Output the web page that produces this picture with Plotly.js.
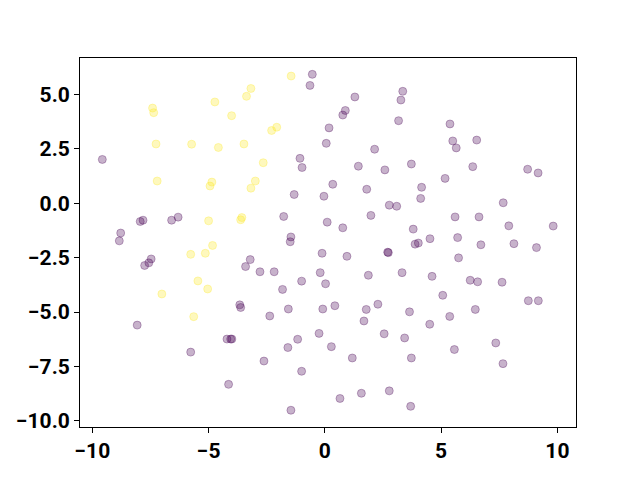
<!DOCTYPE html>
<html>
<head>
<meta charset="utf-8">
<script src="https://cdn.plot.ly/plotly-3.0.1.min.js"></script>
<style>html,body{margin:0;padding:0;background:#fff}#chart{width:640px;height:480px}</style>
</head>
<body>
<div id="chart"></div>
<script>
// Class 1 (yellow) points
const yellowX = [-1.45,-3.18,-3.37,-4.73,-7.41,-7.36,-4.01,-2.29,-2.07,-7.26,-5.73,-4.58,-3.48,-2.65,-7.21,-4.86,-4.94,-2.99,-3.18,-5.00,-3.62,-3.57,-4.83,-5.77,-5.14,-5.46,-5.04,-7.01,-5.64];
const yellowY = [5.84,5.27,4.91,4.65,4.37,4.16,4.02,3.34,3.49,2.72,2.71,2.56,2.72,1.86,1.02,0.97,0.79,1.02,0.69,-0.81,-0.76,-0.66,-1.94,-2.35,-2.30,-3.57,-3.94,-4.17,-5.21];

// Class 0 (purple) points
const purpleX = [-9.57,-7.94,-7.82,-6.59,-6.31,-8.78,-8.84,-0.54,-0.64,1.29,3.35,3.27,0.88,0.77,3.17,0.18,0.06,2.14,-1.07,-0.98,1.44,2.58,3.72,0.34,-1.32,-0.04,1.80,2.77,3.09,-1.77,0.10,1.98,0.77,3.80,-1.46,-1.49,3.88,5.38,5.50,5.65,6.53,6.36,8.72,9.17,5.17,4.16,4.12,7.67,5.60,6.63,7.91,9.82,4.52,5.71,4.02,6.71,8.13,9.10,5.75,4.61,6.25,6.57,7.62,5.07,8.75,9.18,3.64,6.47,5.37,4.51,7.35,5.57,7.66,3.72,3.69,-0.12,0.95,2.73,2.70,-3.21,-3.41,-2.79,-2.18,-0.20,1.87,3.32,-1.00,0.03,-1.82,-1.57,-2.37,-0.09,0.43,1.78,2.28,1.68,-0.25,-1.17,-1.59,0.28,2.55,3.43,1.18,-2.62,-1.00,0.65,1.57,2.77,-1.46,-7.47,-7.57,-7.75,-3.66,-3.62,-8.07,-4.21,-4.05,-4.00,-5.77,-4.14];
const purpleY = [2.01,-0.84,-0.78,-0.78,-0.64,-1.37,-1.73,5.92,5.41,4.88,5.14,4.74,4.26,4.05,3.79,3.46,2.75,2.48,2.06,1.64,1.70,1.53,1.80,0.87,0.40,0.32,0.64,-0.09,-0.14,-0.61,-0.87,-0.56,-1.13,-1.19,-1.55,-1.77,-1.88,3.64,2.86,2.54,2.90,1.68,1.56,1.39,1.14,0.73,0.22,0.02,-0.63,-0.63,-1.04,-1.05,-1.63,-1.58,-1.83,-1.91,-1.86,-2.04,-2.51,-3.36,-3.54,-3.61,-3.63,-4.23,-4.48,-4.48,-4.99,-4.88,-5.20,-5.56,-6.42,-6.72,-7.37,-7.11,-9.33,-2.30,-2.44,-2.27,-2.25,-2.59,-2.91,-3.15,-3.15,-3.19,-3.31,-3.19,-3.58,-3.70,-3.96,-4.86,-5.18,-4.86,-4.71,-4.88,-4.64,-5.41,-5.98,-6.25,-6.63,-6.59,-6.00,-6.19,-7.11,-7.25,-7.72,-8.97,-8.73,-8.62,-9.51,-2.56,-2.74,-2.86,-4.67,-4.79,-5.60,-6.24,-6.24,-6.24,-6.84,-8.32];

const xTicks = [-10, -5, 0, 5, 10];
const yTicks = [-10, -7.5, -5, -2.5, 0, 2.5, 5];

const purple = 'rgba(68,1,84,0.3)';
const yellow = 'rgba(253,231,37,0.3)';

function trace(x, y, c) {
  return {
    x: x, y: y, type: 'scatter', mode: 'markers', hoverinfo: 'skip',
    marker: {size: 8, color: c, line: {color: c, width: 1}}
  };
}

const tickFont = {family: 'Roboto, sans-serif', size: 21, color: '#000', weight: 'bold'};

const axisCommon = {
  showgrid: false, zeroline: false, showline: true, mirror: true,
  linecolor: '#000', linewidth: 1, ticks: 'outside', ticklen: 5, tickwidth: 1,
  tickcolor: '#000', tickfont: tickFont
};

const layout = {
  width: 640, height: 480,
  margin: {l: 80, r: 64, t: 58, b: 53, pad: 0},
  paper_bgcolor: '#fff', plot_bgcolor: '#fff',
  showlegend: false,
  xaxis: Object.assign({}, axisCommon, {range: [-10.53, 10.8], tickvals: xTicks, ticktext: xTicks.map(v => v < 0 ? '\u2212' + Math.abs(v) : String(v))}),
  yaxis: Object.assign({}, axisCommon, {range: [-10.28, 6.67], tickvals: yTicks, ticktext: yTicks.map(v => (v < 0 ? '\u2212' : '') + Math.abs(v).toFixed(1))})
};

Plotly.newPlot('chart', [trace(purpleX, purpleY, purple), trace(yellowX, yellowY, yellow)], layout, {staticPlot: true, displayModeBar: false});
</script>
</body>
</html>
